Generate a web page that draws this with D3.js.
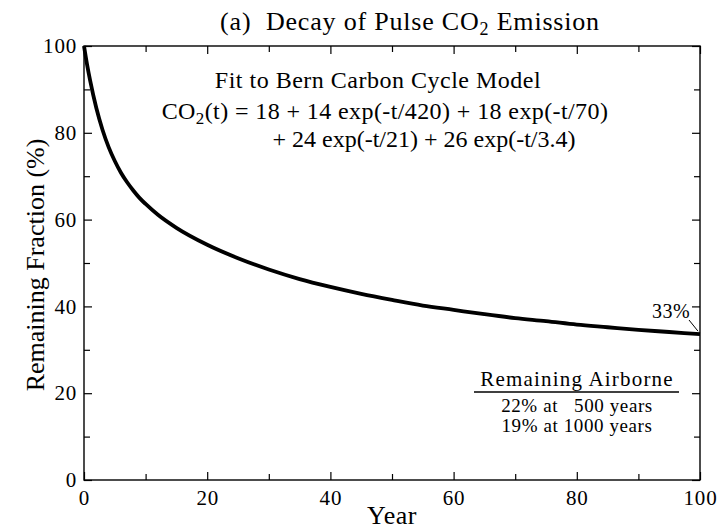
<!DOCTYPE html>
<html>
<head>
<meta charset="utf-8">
<script src="https://cdn.jsdelivr.net/npm/d3@7"></script>
<style>
  html, body { margin: 0; padding: 0; background: #fff; }
  svg { display: block; }
  svg text { font-family: "Liberation Serif", "DejaVu Serif", "Times New Roman", Times, serif !important; fill: #000; white-space: pre; }
</style>
</head>
<body>
<svg id="chart" width="718" height="529"></svg>
<script>
// ---- data ----
const years = [0, 0.5, 1, 2, 3, 4, 5, 6, 7, 8, 9, 10, 12, 15, 20, 25, 30, 35, 40, 45, 50, 55, 60, 65, 70, 75, 80, 85, 90, 95, 100];
const remaining = [100, 95.7, 92.0, 85.7, 80.7, 76.7, 73.5, 70.8, 68.6, 66.7, 65.0, 63.6, 61.1, 58.1, 54.2, 51.1, 48.5, 46.3, 44.5, 42.9, 41.5, 40.2, 39.2, 38.2, 37.3, 36.6, 35.8, 35.2, 34.6, 34.1, 33.6];
const xMajorTicks = [0, 20, 40, 60, 80, 100];
const xMinorTicks = [10, 30, 50, 70, 90];
const yMajorTicks = [0, 20, 40, 60, 80, 100];
const yMinorTicks = [10, 30, 50, 70, 90];
const titleText = ["(a)  Decay of Pulse CO", "2", " Emission"];
const xTitle = "Year";
const yTitle = "Remaining Fraction (%)";
const fitTitle = "Fit to Bern Carbon Cycle Model";
const eqLine1 = ["CO", "2", "(t) = 18 + 14 exp(-t/420) + 18 exp(-t/70)"];
const eqLine2 = "+ 24 exp(-t/21) + 26 exp(-t/3.4)";
const endLabel = "33%";
const endYear = 100;
const endValue = 33.6;
const airborneHeader = "Remaining Airborne";
const airborneLines = ["22% at   500 years", "19% at 1000 years"];

// ---- layout ----
const FONT = '"Liberation Serif", "DejaVu Serif", serif';
const svg = d3.select("#chart");
const m = { left: 84, right: 700, top: 46, bottom: 480 };
const x = d3.scaleLinear().domain([0, 100]).range([m.left, m.right]);
const y = d3.scaleLinear().domain([0, 100]).range([m.bottom, m.top]);

// frame
svg.append("rect")
  .attr("x", m.left).attr("y", m.top)
  .attr("width", m.right - m.left).attr("height", m.bottom - m.top)
  .attr("fill", "none").attr("stroke", "#000").attr("stroke-width", 1.4);

const major = 8, minor = 6;
function styleAxis(g) {
  g.attr("font-family", FONT);
  g.select(".domain").remove();
  g.selectAll("line").attr("stroke", "#000").attr("stroke-width", 1.2);
  g.selectAll("text").attr("font-family", FONT).style("font-size", "21px").style("letter-spacing", "0.8px");
}
// bottom
svg.append("g").attr("transform", `translate(0,${m.bottom})`)
  .call(d3.axisBottom(x).tickValues(xMajorTicks).tickSize(-major).tickPadding(10).tickFormat(d3.format("d")))
  .call(styleAxis);
svg.append("g").attr("transform", `translate(0,${m.bottom})`)
  .call(d3.axisBottom(x).tickValues(xMinorTicks).tickSize(-minor).tickFormat(""))
  .call(styleAxis);
// top
svg.append("g").attr("transform", `translate(0,${m.top})`)
  .call(d3.axisTop(x).tickValues(xMajorTicks).tickSize(-major).tickFormat(""))
  .call(styleAxis);
svg.append("g").attr("transform", `translate(0,${m.top})`)
  .call(d3.axisTop(x).tickValues(xMinorTicks).tickSize(-minor).tickFormat(""))
  .call(styleAxis);
// left
svg.append("g").attr("transform", `translate(${m.left},0)`)
  .call(d3.axisLeft(y).tickValues(yMajorTicks).tickSize(-major).tickPadding(7).tickFormat(d3.format("d")))
  .call(styleAxis);
svg.append("g").attr("transform", `translate(${m.left},0)`)
  .call(d3.axisLeft(y).tickValues(yMinorTicks).tickSize(-minor).tickFormat(""))
  .call(styleAxis);
// right
svg.append("g").attr("transform", `translate(${m.right},0)`)
  .call(d3.axisRight(y).tickValues(yMajorTicks).tickSize(-major).tickFormat(""))
  .call(styleAxis);
svg.append("g").attr("transform", `translate(${m.right},0)`)
  .call(d3.axisRight(y).tickValues(yMinorTicks).tickSize(-minor).tickFormat(""))
  .call(styleAxis);

// curve
const line = d3.line().x((d, i) => x(years[i])).y(d => y(d)).curve(d3.curveMonotoneX);
svg.append("path").datum(remaining)
  .attr("d", line).attr("fill", "none").attr("stroke", "#000")
  .attr("stroke-width", 3.8).attr("stroke-linejoin", "round");

function txt(xp, yp, size, ls, anchor) {
  return svg.append("text").attr("x", xp).attr("y", yp).attr("text-anchor", anchor || "middle")
    .attr("font-family", FONT).style("font-size", size + "px").style("letter-spacing", (ls || 0) + "px");
}

// title
const t = txt(410, 30, 26, 0.8);
t.append("tspan").text(titleText[0]);
t.append("tspan").text(titleText[1]).attr("dy", 5).style("font-size", "18px");
t.append("tspan").text(titleText[2]).attr("dy", -5);

// axis titles
txt((m.left + m.right) / 2, 524, 26, 0.5).text(xTitle);
svg.append("text").attr("transform", `translate(44,${(m.top + m.bottom) / 2 + 2}) rotate(-90)`)
  .attr("text-anchor", "middle").attr("font-family", FONT).style("font-size", "26px").text(yTitle);

// fit annotation
txt(378, 88, 24, 0.5).text(fitTitle);
const e1 = txt(385, 119, 24, 0.4);
e1.append("tspan").text(eqLine1[0]);
e1.append("tspan").text(eqLine1[1]).attr("dy", 5).style("font-size", "17px");
e1.append("tspan").text(eqLine1[2]).attr("dy", -5);
txt(424, 147, 24, 0).text(eqLine2);

// end label with pointer
txt(671, 318, 20, 0.5).text(endLabel);
svg.append("line")
  .attr("x1", 689).attr("y1", 320)
  .attr("x2", x(endYear) - 2).attr("y2", y(endValue) - 3)
  .attr("stroke", "#000").attr("stroke-width", 1);

// remaining airborne block
const ax = 577;
txt(ax, 386, 21, 1.2).text(airborneHeader);
svg.append("line").attr("x1", ax - 103).attr("x2", ax + 102).attr("y1", 392).attr("y2", 392)
  .attr("stroke", "#000").attr("stroke-width", 1.3);
airborneLines.forEach((s, i) => {
  txt(ax, 412 + i * 19.5, 19, 0.6).text(s);
});
</script>
</body>
</html>
